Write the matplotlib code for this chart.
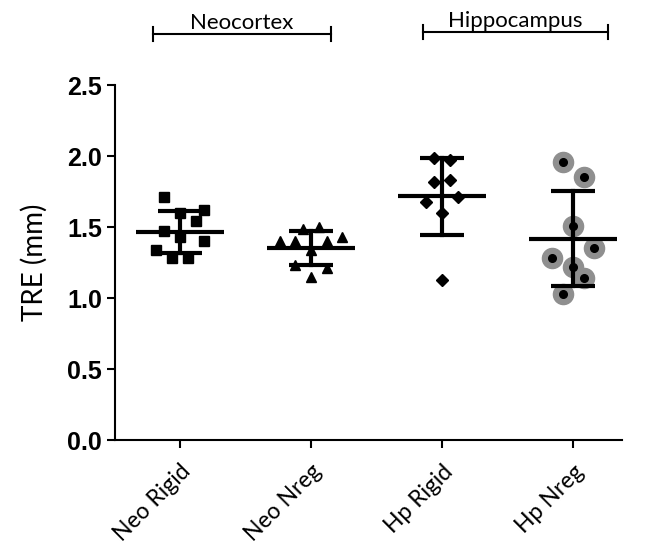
import matplotlib
matplotlib.use("Agg")
import matplotlib.pyplot as plt
import numpy as np

# group names and TRE values (mm)
groups = ["Neo Rigid", "Neo Nreg", "Hp Rigid", "Hp Nreg"]
neo_rigid = [1.71, 1.60, 1.62, 1.54, 1.47, 1.43, 1.40, 1.34, 1.28, 1.28]
neo_nreg = [1.49, 1.50, 1.43, 1.40, 1.40, 1.40, 1.34, 1.23, 1.21, 1.15]
hp_rigid = [1.99, 1.97, 1.82, 1.83, 1.68, 1.71, 1.60, 1.13]
hp_nreg = [1.96, 1.85, 1.51, 1.35, 1.28, 1.22, 1.14, 1.03]

# horizontal scatter of the points within each column
neo_rigid_dx = [-0.12, 0.0, 0.18, 0.12, -0.12, 0.0, 0.18, -0.18, -0.06, 0.06]
neo_nreg_dx = [-0.06, 0.06, 0.24, -0.24, -0.12, 0.12, 0.0, -0.12, 0.12, 0.0]
hp_rigid_dx = [-0.06, 0.06, -0.06, 0.06, -0.12, 0.12, 0.0, 0.0]
hp_nreg_dx = [-0.08, 0.08, 0.0, 0.16, -0.16, 0.0, 0.08, -0.08]

values = [neo_rigid, neo_nreg, hp_rigid, hp_nreg]
offsets = [neo_rigid_dx, neo_nreg_dx, hp_rigid_dx, hp_nreg_dx]

fig = plt.figure(figsize=(6.48, 5.46), dpi=100)
ax = fig.add_axes([0.1775, 0.194, 0.7825, 0.65])

label_font = "Lato"

for i, (vals, dx) in enumerate(zip(values, offsets)):
    x = i + np.array(dx)
    if i == 0:
        ax.plot(x, vals, "s", color="black", markersize=7.8, zorder=2)
    elif i == 1:
        ax.plot(x, vals, "^", color="black", markersize=7.8, zorder=2)
    elif i == 2:
        ax.plot(x, vals, "D", color="black", markersize=6, zorder=2)
    else:
        ax.plot(x, vals, "o", color="#8f8f8f", markersize=14.5, zorder=2)
        ax.plot(x, vals, "o", color="black", markersize=5.5, zorder=4)
    m = np.mean(vals)
    sd = np.std(vals, ddof=1)
    ax.plot([i - 0.335, i + 0.335], [m, m], color="black", lw=3, zorder=3,
            solid_capstyle="butt")
    ax.plot([i, i], [m - sd, m + sd], color="black", lw=3, zorder=3)
    for y in (m - sd, m + sd):
        ax.plot([i - 0.17, i + 0.17], [y, y], color="black", lw=3, zorder=3,
                solid_capstyle="butt")

ax.set_xlim(-0.496, 3.374)
ax.set_ylim(0, 2.5)
ax.set_yticks([0.0, 0.5, 1.0, 1.5, 2.0, 2.5])
ax.set_yticklabels(["0.0", "0.5", "1.0", "1.5", "2.0", "2.5"],
                   fontfamily="Liberation Sans", fontweight="bold", fontsize=18)
ax.set_xticks(range(len(groups)))
ax.set_xticklabels(groups, rotation=45, ha="right", rotation_mode="anchor",
                   fontfamily=label_font, fontsize=16.5)
ax.set_ylabel("TRE (mm)", fontfamily=label_font, fontsize=20, labelpad=14)

for s in ["top", "right"]:
    ax.spines[s].set_visible(False)
for s in ["left", "bottom"]:
    ax.spines[s].set_linewidth(1.5)
ax.tick_params(axis="both", length=6, width=1.5, direction="out")
ax.tick_params(axis="x", pad=9)

# region brackets above the plot
def bracket(x0, x1, y, text):
    fig.add_artist(plt.Line2D([x0, x1], [y, y], color="black", lw=1.5))
    for xx in (x0, x1):
        fig.add_artist(plt.Line2D([xx, xx], [y - 0.013, y + 0.013],
                                  color="black", lw=1.5))
    fig.text((x0 + x1) / 2, y + 0.002, text, ha="center", va="bottom",
             fontfamily=label_font, fontsize=16)

bracket(153 / 648, 331 / 648, 1 - 34 / 546, "Neocortex")
bracket(423 / 648, 608 / 648, 1 - 32 / 546, "Hippocampus")

fig.savefig("out.png", dpi=100)
